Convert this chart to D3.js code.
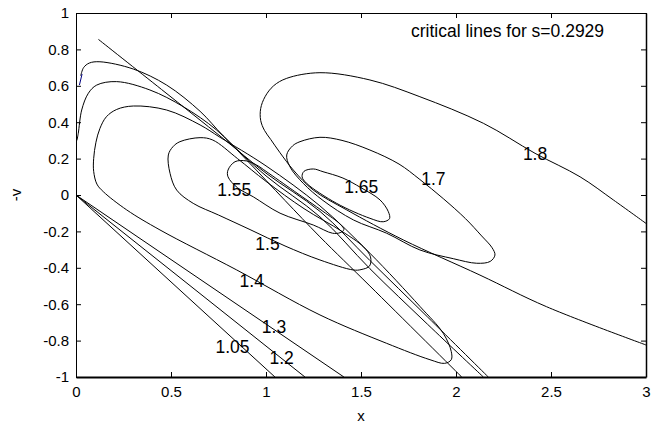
<!DOCTYPE html>
<html>
<head>
<meta charset="utf-8">
<script src="https://cdn.jsdelivr.net/npm/d3@7/dist/d3.min.js"></script>
<style>
body { margin: 0; background: #fff; }
text { font-family: "Liberation Sans", Arial, Helvetica, sans-serif; fill: #000; }
</style>
</head>
<body>
<div id="chart"></div>
<script>
// Tick values
const xTicks = [0, 0.5, 1, 1.5, 2, 2.5, 3];
const yTicks = [-1, -0.8, -0.6, -0.4, -0.2, 0, 0.2, 0.4, 0.6, 0.8, 1];

// Open contour lines, [x, -v] pairs
const line105 = [[0, 0], [1.047, -1]];
const line12 = [[0, 0], [1.205, -1]];
const line13 = [[0, 0], [1.41, -1]];
const lineCrit = [[0.118, 0.855], [0.45, 0.58], [0.775, 0.31], [1.0, 0.12], [1.284, -0.09], [1.547, -0.36], [1.85, -0.67], [2.17, -1]];
const lineTop = [[0.025, 0.655], [0.04, 0.70], [0.07, 0.725], [0.126, 0.732], [0.302, 0.692], [0.477, 0.604], [0.653, 0.46], [0.775, 0.325], [1.0, 0.105], [1.284, -0.12], [1.547, -0.405], [1.85, -0.71], [2.144, -1]];
const lineMid = [[0.005, 0.30], [0.012, 0.339], [0.03, 0.467], [0.065, 0.559], [0.109, 0.604], [0.214, 0.623], [0.389, 0.577], [0.565, 0.485], [0.74, 0.357], [0.9, 0.19], [1.1, -0.03], [1.284, -0.23], [1.547, -0.5], [2.03, -1]];
const line18 = [[3, -0.156], [2.828, -0.027], [2.653, 0.1], [2.416, 0.229], [2.144, 0.394], [1.81, 0.54], [1.547, 0.632], [1.284, 0.672], [1.109, 0.641], [1.04, 0.60], [0.995, 0.54], [0.972, 0.475], [0.972, 0.41], [0.992, 0.355], [1.025, 0.305], [1.074, 0.232], [1.144, 0.137], [1.249, 0.027], [1.425, -0.082], [1.723, -0.247], [2.126, -0.44], [2.477, -0.614], [3, -0.824]];
const lineMark = [[0.018, 0.604], [0.032, 0.665]];

// Closed contour loops
const loop14 = [[0.302, 0.489], [0.214, 0.47], [0.16, 0.43], [0.126, 0.366], [0.105, 0.29], [0.093, 0.2], [0.093, 0.13], [0.11, 0.06], [0.144, 0.018], [0.267, -0.082], [0.442, -0.192], [0.846, -0.412], [1.284, -0.659], [1.635, -0.815], [1.863, -0.905], [1.94, -0.925], [1.975, -0.905], [1.975, -0.86], [1.933, -0.76], [1.81, -0.612], [1.547, -0.32], [1.284, -0.06], [1.0, 0.16], [0.758, 0.317], [0.653, 0.385], [0.477, 0.467]];
const loop15 = [[0.486, 0.22], [0.51, 0.265], [0.547, 0.293], [0.653, 0.315], [0.72, 0.302], [0.85, 0.2], [1.0, 0.075], [1.2, -0.075], [1.4, -0.2], [1.512, -0.284], [1.55, -0.34], [1.545, -0.39], [1.5, -0.41], [1.46, -0.412], [1.284, -0.357], [1.1, -0.28], [0.916, -0.19], [0.75, -0.11], [0.617, -0.046], [0.53, 0.027], [0.495, 0.119]];
const loop155 = [[0.80, 0.137], [0.837, 0.183], [0.898, 0.187], [0.95, 0.165], [1.0, 0.13], [1.15, 0.02], [1.3, -0.09], [1.39, -0.16], [1.41, -0.19], [1.39, -0.207], [1.35, -0.21], [1.249, -0.165], [1.074, -0.10], [0.933, -0.01], [0.85, 0.04], [0.80, 0.10]];
const loop165 = [[1.19, 0.10], [1.20, 0.13], [1.249, 0.143], [1.30, 0.128], [1.405, 0.093], [1.5, 0.04], [1.6, -0.027], [1.644, -0.092], [1.65, -0.13], [1.617, -0.147], [1.547, -0.128], [1.372, -0.046], [1.214, 0.064]];
const loop17 = [[1.109, 0.22], [1.14, 0.27], [1.179, 0.293], [1.284, 0.317], [1.4, 0.30], [1.547, 0.247], [1.7, 0.17], [1.81, 0.085], [1.933, -0.02], [2.05, -0.13], [2.135, -0.225], [2.19, -0.29], [2.205, -0.33], [2.18, -0.365], [2.109, -0.375], [1.986, -0.35], [1.81, -0.302], [1.635, -0.21], [1.46, -0.137], [1.3, -0.03], [1.196, 0.064], [1.126, 0.155]];

// Level labels
const labelText = ["1.05", "1.2", "1.3", "1.4", "1.5", "1.55", "1.65", "1.7", "1.8"];
const labelX = [0.824, 1.082, 1.042, 0.925, 1.008, 0.833, 1.501, 1.881, 2.416];
const labelY = [-0.831, -0.896, -0.723, -0.469, -0.265, 0.027, 0.044, 0.092, 0.229];

const openLines = [line105, line12, line13, lineCrit, lineTop, lineMid, line18];
const closedLines = [loop14, loop15, loop155, loop165, loop17];

const width = 661;
const height = 423;
const margin = { top: 13, right: 15, bottom: 46, left: 76 };

const svg = d3.select("#chart").append("svg")
    .attr("width", width)
    .attr("height", height);

const x = d3.scaleLinear().domain([0, 3]).range([margin.left, width - margin.right]);
const y = d3.scaleLinear().domain([-1, 1]).range([height - margin.bottom, margin.top]);

svg.append("clipPath").attr("id", "plot")
    .append("rect")
    .attr("x", x(0)).attr("y", y(1))
    .attr("width", x(3) - x(0)).attr("height", y(-1) - y(1));

const lines = svg.append("g").attr("clip-path", "url(#plot)")
    .attr("fill", "none")
    .attr("stroke", "#000")
    .attr("stroke-width", 1);

const openPath = d3.line().x(d => x(d[0])).y(d => y(d[1])).curve(d3.curveCatmullRom.alpha(0.5));
const closedPath = d3.line().x(d => x(d[0])).y(d => y(d[1])).curve(d3.curveCatmullRomClosed.alpha(0.5));

lines.selectAll(".open")
    .data(openLines)
    .enter()
    .append("path")
    .attr("class", "open")
    .attr("d", openPath);

lines.selectAll(".closed")
    .data(closedLines)
    .enter()
    .append("path")
    .attr("class", "closed")
    .attr("d", closedPath);

lines.append("path")
    .attr("d", openPath(lineMark))
    .attr("stroke", "#000080");

// Labels sit on their lines, no gap
svg.append("g").selectAll("text")
    .data(labelText)
    .enter()
    .append("text")
    .attr("x", (d, i) => x(labelX[i]))
    .attr("y", (d, i) => y(labelY[i]))
    .attr("dy", "0.36em")
    .attr("text-anchor", "middle")
    .style("font-size", "17.5px")
    .text(d => d);

// Axes, ticks pointing in
const axisStyle = g => {
    g.selectAll("path.domain").attr("stroke", "#000");
    g.selectAll(".tick line").attr("stroke", "#000");
    g.selectAll(".tick text").style("font-size", "15px").attr("fill", "#000");
};

svg.append("g")
    .attr("transform", `translate(0,${y(-1)})`)
    .call(d3.axisBottom(x).tickValues(xTicks).tickSize(-5).tickSizeOuter(0).tickPadding(9).tickFormat(d3.format("")))
    .call(axisStyle)
    .call(g => g.select("path.domain").attr("stroke-width", 2));

svg.append("g")
    .attr("transform", `translate(0,${y(1)})`)
    .call(d3.axisTop(x).tickValues(xTicks).tickSize(-5).tickSizeOuter(0).tickFormat(""))
    .call(axisStyle);

svg.append("g")
    .attr("transform", `translate(${x(0)},0)`)
    .call(d3.axisLeft(y).tickValues(yTicks).tickSize(-5).tickSizeOuter(0).tickPadding(7).tickFormat(d => d3.format("")(+d.toFixed(1)).replace("−", "-")))
    .call(axisStyle);

svg.append("g")
    .attr("transform", `translate(${x(3)},0)`)
    .call(d3.axisRight(y).tickValues(yTicks).tickSize(-5).tickSizeOuter(0).tickFormat(""))
    .call(axisStyle)
    .call(g => g.select("path.domain").attr("stroke-width", 1.5));

svg.selectAll(".domain").attr("fill", "none");

// Axis titles and note
svg.append("text")
    .attr("x", x(1.5))
    .attr("y", 421)
    .attr("text-anchor", "middle")
    .style("font-size", "15px")
    .text("x");

svg.append("text")
    .attr("transform", `translate(21,${y(0)}) rotate(-90)`)
    .attr("text-anchor", "middle")
    .style("font-size", "15px")
    .text("-v");

svg.append("text")
    .attr("x", 411)
    .attr("y", 37)
    .style("font-size", "17.5px")
    .text("critical lines for s=0.2929");
</script>
</body>
</html>
